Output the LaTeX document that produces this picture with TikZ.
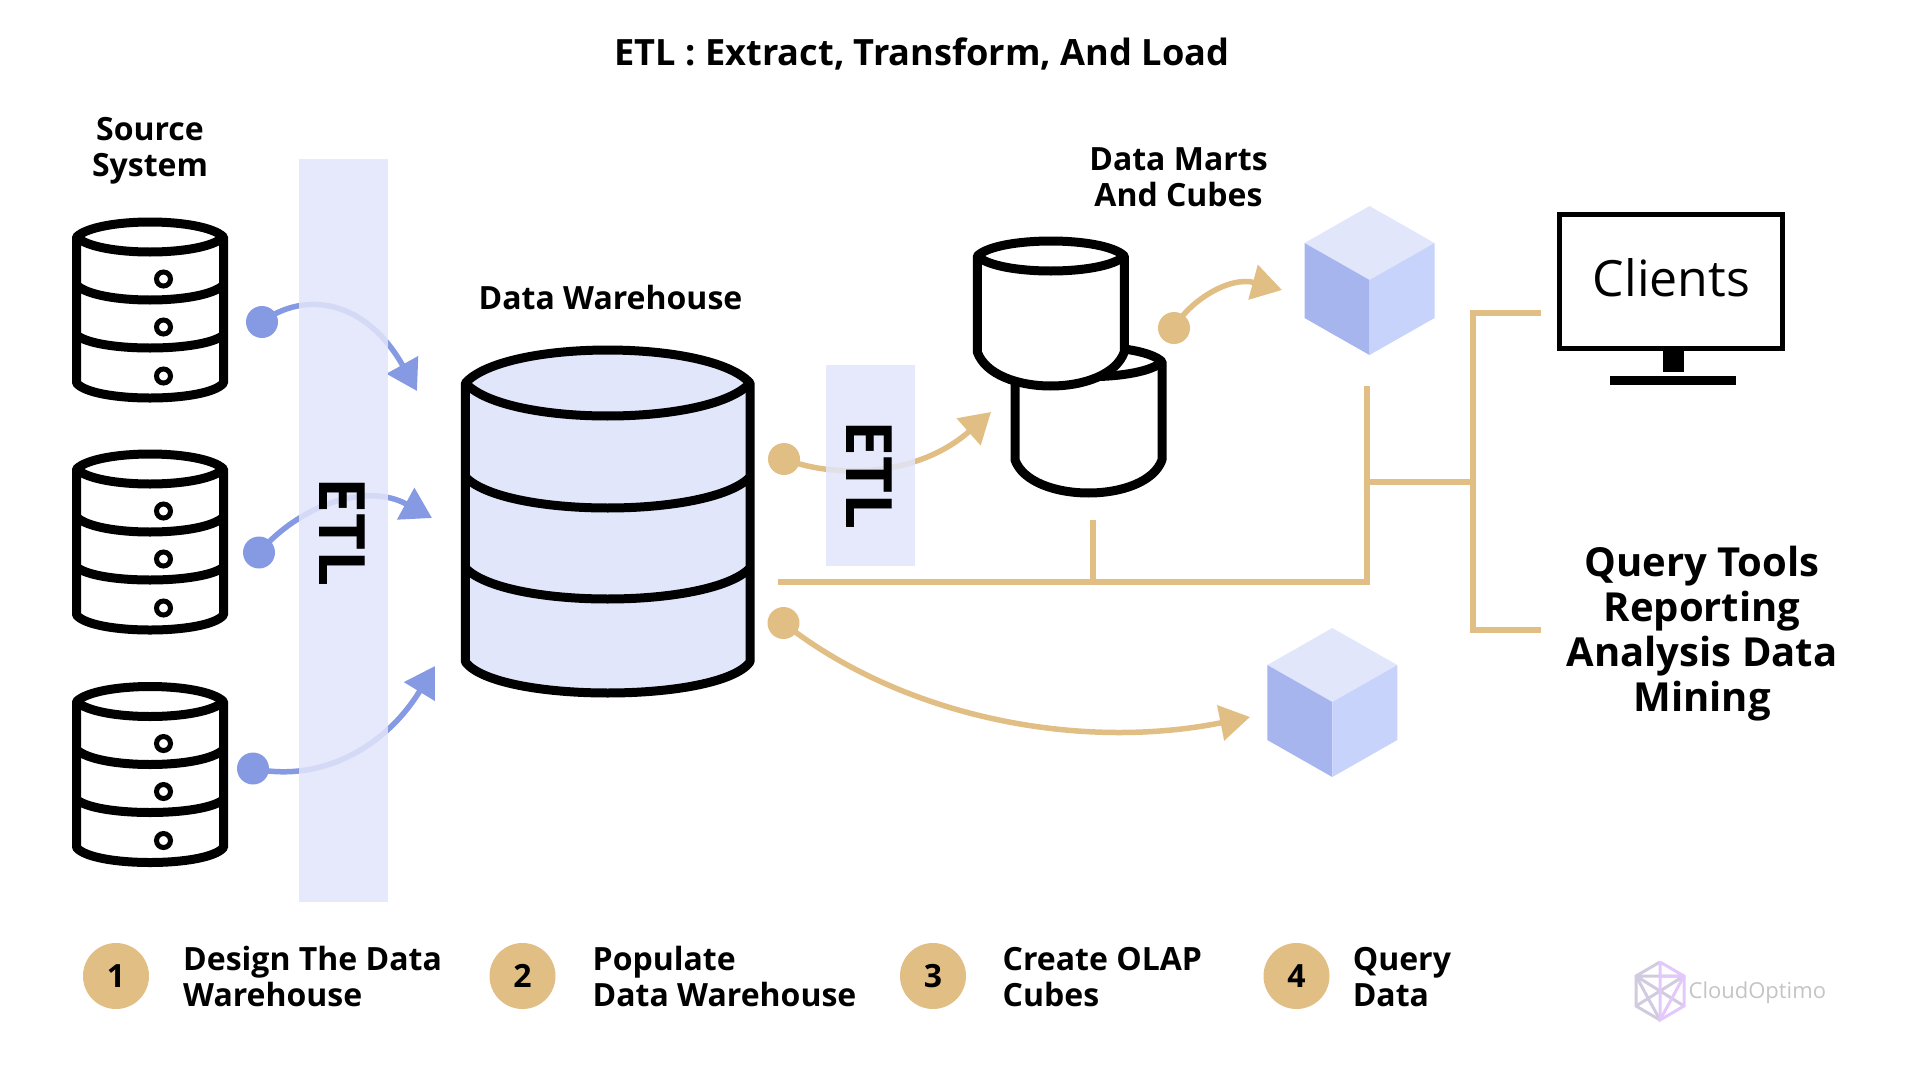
\documentclass[tikz,border=0pt]{standalone}
\usepackage{fontspec}
\setmainfont{Open Sans}
\usetikzlibrary{arrows.meta}
\definecolor{tanc}{HTML}{E1BE84}
\definecolor{bluec}{HTML}{8699E3}
\definecolor{bandc}{HTML}{E2E5FA}
\definecolor{dbfill}{HTML}{E1E6FA}
\definecolor{cubetop}{HTML}{E2E6FA}
\definecolor{cubeleft}{HTML}{A6B5EE}
\definecolor{cuberight}{HTML}{C7D3FB}
\definecolor{logoa}{HTML}{E3C8FB}
\definecolor{logob}{HTML}{D2CBE0}
\definecolor{logot}{HTML}{C4C4C4}
\newcommand{\cylbody}[7]{%
  \filldraw[dbline,fill=#1] (#2-#3,#4) -- (#2-#3,#6)
    .. controls (#2-.78*#3,#6+1.333*#7) and (#2+.78*#3,#6+1.333*#7) .. (#2+#3,#6)
    -- (#2+#3,#4)
    .. controls (#2+.72*#3,#4-1.333*#5) and (#2-.72*#3,#4-1.333*#5) .. cycle;
  \draw[dbline] (#2-#3,#4)
    .. controls (#2-.72*#3,#4+1.333*#5) and (#2+.72*#3,#4+1.333*#5) .. (#2+#3,#4);}
\newcommand{\cylband}[4]{%
  \draw[dbline] (#1-#2,#3)
    .. controls (#1-.72*#2,#3+1.333*#4) and (#1+.72*#2,#3+1.333*#4) .. (#1+#2,#3);}
\newcommand{\srcdb}[1]{%
  \begin{scope}[yshift=-#1pt]
  \cylbody{white}{150}{73.5}{237}{15}{383}{15}
  \cylband{150}{73.5}{285}{15}
  \cylband{150}{73.5}{335}{13}
  \foreach \yy in {279,327,376}{\draw[line width=5pt] (163.5,\yy) circle[radius=7pt];}
  \end{scope}}
\newcommand{\cube}[2]{%
  \begin{scope}[shift={(#1,#2)}]
  \fill[cubetop] (0,0) -- (65,37) -- (0,74) -- (-65,37) -- cycle;
  \fill[cubeleft] (-65,37) -- (0,74) -- (0,149) -- (-65,112) -- cycle;
  \fill[cuberight] (65,37) -- (0,74) -- (0,149) -- (65,112) -- cycle;
  \end{scope}}
\tikzset{
  dbline/.style={line width=9pt,line join=round,draw=black},
  lbl/.style={font=\fontsize{32}{36}\selectfont\bfseries,anchor=base,align=center,inner sep=0pt},
  lgd/.style={font=\fontsize{32}{36}\selectfont\bfseries,anchor=base west,align=left,inner sep=0pt},
  dotb/.style={circle,fill=bluec,minimum size=32pt,inner sep=0pt},
  dott/.style={circle,fill=tanc,minimum size=32pt,inner sep=0pt},
  arrb/.style={line width=5.5pt,draw=bluec,-{Triangle[length=30pt,width=35pt,fill=bluec]}},
  arrt/.style={line width=5.5pt,draw=tanc,-{Triangle[length=30pt,width=35pt,fill=tanc]}},
  bus/.style={line width=6pt,draw=tanc},
  band/.style={fill=bandc,fill opacity=.85,inner sep=0pt,draw=none},
  etl/.style={font=\fontsize{64}{70}\selectfont\bfseries,rotate=-90,inner sep=0pt},
  num/.style={circle,fill=tanc,minimum size=66pt,inner sep=0pt,font=\fontsize{32}{36}\selectfont\bfseries},
  logol/.style={line width=3pt}
}
\begin{document}
\begin{tikzpicture}[x=1pt,y=-1pt]
\useasboundingbox (0,0) rectangle (1920,1080);
\node[font=\fontsize{36.2}{40}\selectfont\bfseries,anchor=base,inner sep=0pt] (title) at (922,65) {ETL : Extract, Transform, And Load};
\node[lbl] (srclabel) at (150,176) {Source\\System};
\node[lbl] (dwlabel) at (610.5,309) {Data Warehouse};
\node[lbl] (martlabel) at (1178.5,206) {Data Marts\\And Cubes};
% source databases
\srcdb{0}\srcdb{232}\srcdb{464.5}
% warehouse
\cylbody{dbfill}{607.7}{142.3}{383}{33}{662}{31}
\cylband{607.7}{142.3}{477}{31}
\cylband{607.7}{142.3}{568}{31}
% marts
\cylbody{white}{1088.5}{73.5}{361.7}{15}{460}{33}
\cylbody{white}{1050.8}{73.5}{256}{15}{352}{34}
% cubes
\cube{1369.5}{206}
\cube{1332.3}{628}
% dots
\node[dotb] (d1) at (262,322) {};
\node[dotb] (d2) at (259,552.5) {};
\node[dotb] (d3) at (253,768.5) {};
\node[dott] (d4) at (784,459) {};
\node[dott] (d5) at (783.5,623) {};
\node[dott] (d6) at (1174,328) {};
\coordinate (t1) at (417,391);
\coordinate (t2) at (432,518);
\coordinate (t3) at (435,666);
\coordinate (t4) at (991,412);
\coordinate (t5) at (1250,717);
\coordinate (t6) at (1282,290);
\draw[arrb] (d1.center) .. controls (305,290) and (366,300) .. (t1);
\draw[arrb] (d2.center) .. controls (300,505) and (366,482) .. (t2);
\draw[arrb] (d3.center) .. controls (320,783) and (385,748) .. (t3);
\draw[arrt] (d4.center) .. controls (840,480) and (920,475) .. (t4);
\draw[arrt] (d5.center) .. controls (900,715) and (1075,752) .. (t5);
\draw[arrt] (d6.center) .. controls (1190,300) and (1230,276) .. (t6);
% ETL bands
\fill[band] (299,159) rectangle (388,902);
\fill[band] (826,365) rectangle (915,566);
\node[etl] (etla) at (342,532.5) {ETL};
\node[etl] (etlb) at (869,475.5) {ETL};
% buses
\coordinate (busa) at (778,581.7);
\coordinate (busb) at (1367,581.7);
\coordinate (busc) at (1367,386);
\coordinate (stuba) at (1093,520);
\coordinate (stubb) at (1093,582);
\coordinate (brancha) at (1367,482);
\coordinate (branchb) at (1473,482);
\coordinate (cla) at (1541,313);
\coordinate (clb) at (1473,313);
\coordinate (clc) at (1473,630);
\coordinate (cld) at (1541,630);
\draw[bus] (busa) -- (busb) -- (busc);
\draw[bus] (stuba) -- (stubb);
\draw[bus] (brancha) -- (branchb);
\draw[bus] (cla) -- (clb) -- (clc) -- (cld);
% monitor
\node[draw,line width=5pt,minimum width=223pt,minimum height=134pt,inner sep=0pt] (monitor) at (1671,281) {};
\node[font=\fontsize{50}{56}\selectfont,anchor=base,inner sep=0pt] (clients) at (1671.5,296) {Clients};
\fill (1663,350) rectangle (1684,372);
\fill (1610,376) rectangle (1736,385);
\node[lbl,font=\fontsize{40}{45}\selectfont\bfseries] (qt) at (1702,711) {Query Tools\\Reporting\\Analysis Data\\Mining};
% legend
\node[num] (n1) at (116,976) {1};
\node[num] (n2) at (522.5,976) {2};
\node[num] (n3) at (933,976) {3};
\node[num] (n4) at (1296.5,976) {4};
\node[lgd] (l1) at (183,1006.7) {Design The Data\\Warehouse};
\node[lgd] (l2) at (592.5,1006.7) {Populate\\Data Warehouse};
\node[lgd] (l3) at (1002.5,1006.7) {Create OLAP\\Cubes};
\node[lgd] (l4) at (1352.6,1006.7) {Query\\Data};
% logo
\begin{scope}[xshift=1pt]
\draw[logol,logob] (1659,962) -- (1635,976) -- (1635,1006) -- (1659,1020);
\draw[logol,logob] (1635,976) -- (1683,976) (1635,976) -- (1683,1006) (1635,976) -- (1659,1020) (1635,1006) -- (1683,976);
\draw[logol,logoa] (1659,962) -- (1683,976) -- (1683,1006) -- (1659,1020) -- (1659,962);
\draw[logol,logoa] (1659,976) -- (1683,976) (1683,976) -- (1659,1020);
\end{scope}
\node[font=\fontsize{22}{26}\selectfont,text=logot,anchor=base west,inner sep=0pt] (logo) at (1688.4,998) {CloudOptimo};
\end{tikzpicture}
\end{document}
